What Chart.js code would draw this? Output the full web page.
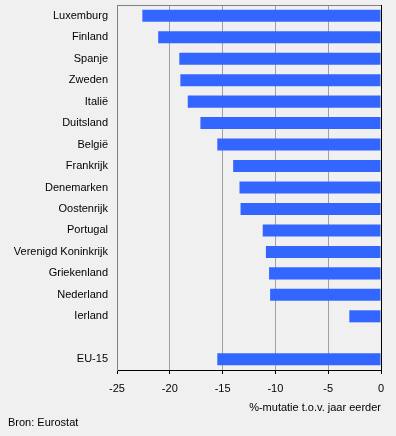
<!DOCTYPE html>
<html>
<head>
<meta charset="utf-8">
<script src="https://cdn.jsdelivr.net/npm/chart.js@4"></script>
<style>
    body { margin: 0; background: #f0f0f0; }
    #wrap { width: 396px; height: 436px; position: relative; }
</style>
</head>
<body>
<div id="wrap"><canvas id="diagram"></canvas></div>
<script>
const landen = ["Luxemburg", "Finland", "Spanje", "Zweden", "Italië", "Duitsland", "België", "Frankrijk",
    "Denemarken", "Oostenrijk", "Portugal", "Verenigd Koninkrijk", "Griekenland", "Nederland", "Ierland", "", "EU-15"];
const mutatie = [-22.6, -21.1, -19.1, -19.0, -18.3, -17.1, -15.5, -14.0,
    -13.4, -13.3, -11.2, -10.9, -10.6, -10.5, -3.0, null, -15.5];
const asTitel = "%-mutatie t.o.v. jaar eerder";
const bron = "Bron: Eurostat";

Chart.defaults.font.family = "'Liberation Sans', Arial, sans-serif";
Chart.defaults.font.size = 11;
Chart.defaults.color = '#000';

const extra = {
    id: 'extra',
    beforeDraw(chart) {
        const c = chart.ctx;
        c.save();
        c.fillStyle = '#f0f0f0';
        c.fillRect(0, 0, chart.width, chart.height);
        c.restore();
    },
    afterDraw(chart) {
        const c = chart.ctx;
        const a = chart.chartArea;
        c.save();
        c.strokeStyle = '#808080';
        c.lineWidth = 1;
        c.beginPath();
        c.moveTo(a.left, a.top + 0.5);
        c.lineTo(a.right, a.top + 0.5);
        c.stroke();
        c.fillStyle = '#000';
        c.font = "11px 'Liberation Sans', Arial, sans-serif";
        c.textBaseline = 'middle';
        c.textAlign = 'left';
        c.fillText(bron, 8, 423);
        c.restore();
    }
};

new Chart(document.getElementById("diagram"), {
    type: 'bar',
    data: {
        labels: landen,
        datasets: [{
            data: mutatie,
            backgroundColor: '#3366ff',
            categoryPercentage: 1,
            barPercentage: 0.56
        }]
    },
    options: {
        indexAxis: 'y',
        responsive: true,
        maintainAspectRatio: false,
        animation: false,
        layout: { padding: { left: 0, right: 15, top: 5, bottom: 21 } },
        plugins: {
            legend: { display: false },
            tooltip: { enabled: false }
        },
        scales: {
            x: {
                min: -25,
                max: 0,
                ticks: { stepSize: 5, padding: 8 },
                grid: {
                    color: ctx => ctx.tick && ctx.tick.value === 0 ? '#000' : '#a0a0a0',
                    tickColor: '#000',
                    tickLength: 4
                },
                border: { color: '#000' },
                title: {
                    display: true,
                    text: asTitel,
                    align: 'end',
                    padding: { top: 3, bottom: 0 }
                },
                afterFit: s => { s.height = 45; s.paddingLeft = 0; s.paddingRight = 0; }
            },
            y: {
                grid: { display: false },
                border: { color: '#808080' },
                ticks: { padding: 1 },
                afterFit: s => { s.width = 117; s.paddingTop = 0; s.paddingBottom = 0; }
            }
        }
    },
    plugins: [extra]
});
</script>
</body>
</html>
